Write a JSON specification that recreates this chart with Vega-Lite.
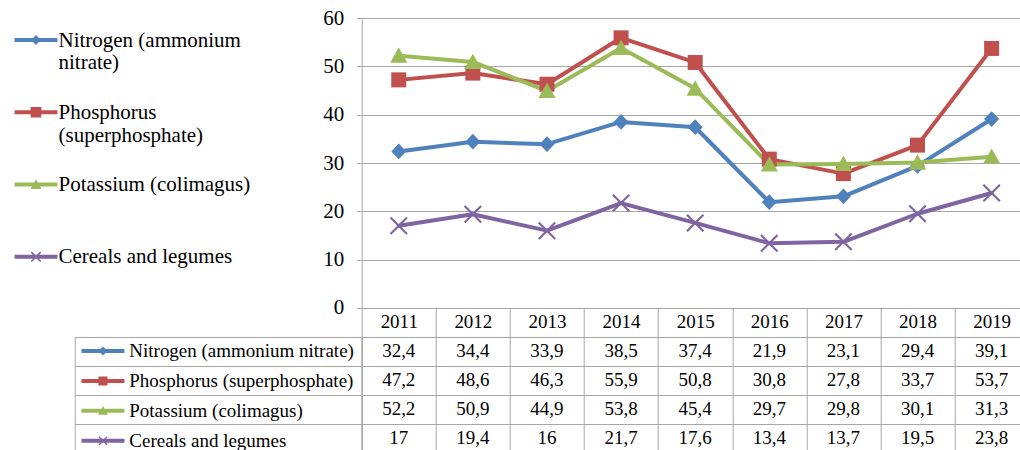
{
  "$schema": "https://vega.github.io/schema/vega-lite/v6.json",
  "padding": {"left": 24.7, "top": 7, "right": 0, "bottom": 0},
  "config": {
    "locale": {"number": {"decimal": ",", "thousands": " ", "grouping": [3], "currency": ["", ""]}},
    "font": "Liberation Serif",
    "view": {"stroke": null},
    "axis": {"labelFont": "Liberation Serif", "labelColor": "#000000", "gridColor": "#A6A6A6", "domainColor": "#A6A6A6", "tickColor": "#A6A6A6", "gridWidth": 1, "domainWidth": 1, "tickWidth": 1},
    "legend": {"labelFont": "Liberation Serif", "labelColor": "#000000"}
  },
  "data": {"values": [
    {"series": "Nitrogen (ammonium nitrate)", "year": 2011, "value": 32.4},
    {"series": "Nitrogen (ammonium nitrate)", "year": 2012, "value": 34.4},
    {"series": "Nitrogen (ammonium nitrate)", "year": 2013, "value": 33.9},
    {"series": "Nitrogen (ammonium nitrate)", "year": 2014, "value": 38.5},
    {"series": "Nitrogen (ammonium nitrate)", "year": 2015, "value": 37.4},
    {"series": "Nitrogen (ammonium nitrate)", "year": 2016, "value": 21.9},
    {"series": "Nitrogen (ammonium nitrate)", "year": 2017, "value": 23.1},
    {"series": "Nitrogen (ammonium nitrate)", "year": 2018, "value": 29.4},
    {"series": "Nitrogen (ammonium nitrate)", "year": 2019, "value": 39.1},
    {"series": "Phosphorus (superphosphate)", "year": 2011, "value": 47.2},
    {"series": "Phosphorus (superphosphate)", "year": 2012, "value": 48.6},
    {"series": "Phosphorus (superphosphate)", "year": 2013, "value": 46.3},
    {"series": "Phosphorus (superphosphate)", "year": 2014, "value": 55.9},
    {"series": "Phosphorus (superphosphate)", "year": 2015, "value": 50.8},
    {"series": "Phosphorus (superphosphate)", "year": 2016, "value": 30.8},
    {"series": "Phosphorus (superphosphate)", "year": 2017, "value": 27.8},
    {"series": "Phosphorus (superphosphate)", "year": 2018, "value": 33.7},
    {"series": "Phosphorus (superphosphate)", "year": 2019, "value": 53.7},
    {"series": "Potassium (colimagus)", "year": 2011, "value": 52.2},
    {"series": "Potassium (colimagus)", "year": 2012, "value": 50.9},
    {"series": "Potassium (colimagus)", "year": 2013, "value": 44.9},
    {"series": "Potassium (colimagus)", "year": 2014, "value": 53.8},
    {"series": "Potassium (colimagus)", "year": 2015, "value": 45.4},
    {"series": "Potassium (colimagus)", "year": 2016, "value": 29.7},
    {"series": "Potassium (colimagus)", "year": 2017, "value": 29.8},
    {"series": "Potassium (colimagus)", "year": 2018, "value": 30.1},
    {"series": "Potassium (colimagus)", "year": 2019, "value": 31.3},
    {"series": "Cereals and legumes", "year": 2011, "value": 17},
    {"series": "Cereals and legumes", "year": 2012, "value": 19.4},
    {"series": "Cereals and legumes", "year": 2013, "value": 16},
    {"series": "Cereals and legumes", "year": 2014, "value": 21.7},
    {"series": "Cereals and legumes", "year": 2015, "value": 17.6},
    {"series": "Cereals and legumes", "year": 2016, "value": 13.4},
    {"series": "Cereals and legumes", "year": 2017, "value": 13.7},
    {"series": "Cereals and legumes", "year": 2018, "value": 19.5},
    {"series": "Cereals and legumes", "year": 2019, "value": 23.8}
  ]},
  "columns": 2,
  "spacing": {"row": 29, "column": 0},
  "bounds": "flush",
  "resolve": {
    "scale": {"x": "independent", "y": "independent", "color": "independent", "fill": "independent", "shape": "independent"},
    "legend": {"fill": "independent", "shape": "independent", "color": "independent"}
  },
  "concat": [
    {
      "width": 287,
      "height": 290,
      "mark": {"type": "point", "filled": true, "opacity": 0, "strokeWidth": 0},
      "encoding": {
        "fill": {
          "field": "series", "type": "nominal",
          "scale": {"domain": ["Nitrogen (ammonium nitrate)", "Phosphorus (superphosphate)", "Potassium (colimagus)", "Cereals and legumes"], "range": ["#4F81BD", "#C0504D", "#9BBB59", "#8064A2"]},
          "legend": {"title": null, "orient": "none", "legendX": -49.2, "legendY": 1, "padding": 0, "labelFontSize": 21, "labelBaseline": "top", "labelLimit": 400, "symbolSize": 121, "symbolStrokeWidth": 0, "symbolOpacity": 1, "labelOffset": 12, "rowPadding": 17.3, "gridAlign": "all",
            "labelExpr": "datum.label == 'Nitrogen (ammonium nitrate)' ? ['Nitrogen (ammonium', 'nitrate)'] : datum.label == 'Phosphorus (superphosphate)' ? ['Phosphorus', '(superphosphate)'] : datum.label"}
        },
        "shape": {
          "field": "series", "type": "nominal",
          "scale": {"domain": ["Nitrogen (ammonium nitrate)", "Phosphorus (superphosphate)", "Potassium (colimagus)", "Cereals and legumes"], "range": [
            "M-3.9,1.54H3.9V2.26H-3.9ZM0,0.99L0.91,1.9L0,2.81L-0.91,1.9Z",
            "M-3.9,1.54H3.9V2.26H-3.9ZM-0.97,0.93H0.97V2.87H-0.97Z",
            "M-3.9,1.54H3.9V2.26H-3.9ZM0,0.95L1,2.7L-1,2.7Z",
            "M-3.9,1.54H3.9V2.26H-3.9ZM-0.75,0.95L0.95,2.65L0.75,2.85L-0.95,1.15ZM-0.75,2.85L-0.95,2.65L0.75,0.95L0.95,1.15Z"
          ]},
          "legend": {"title": null, "orient": "none", "legendX": -49.2, "legendY": 1, "padding": 0, "labelFontSize": 21, "labelBaseline": "top", "labelLimit": 400, "symbolSize": 121, "symbolStrokeWidth": 0, "symbolOpacity": 1, "labelOffset": 12, "rowPadding": 17.3, "gridAlign": "all",
            "labelExpr": "datum.label == 'Nitrogen (ammonium nitrate)' ? ['Nitrogen (ammonium', 'nitrate)'] : datum.label == 'Phosphorus (superphosphate)' ? ['Phosphorus', '(superphosphate)'] : datum.label"}
        }
      }
    },
    {
      "width": 667,
      "height": 290,
      "encoding": {
        "x": {"field": "year", "type": "ordinal", "scale": {"type": "band", "paddingInner": 0, "paddingOuter": 0},
          "axis": {"title": null, "labelAngle": 0, "labelFontSize": 19, "tickBand": "extent", "tickSize": 29, "labelBaseline": "middle", "labelPadding": -15, "grid": false}},
        "y": {"field": "value", "type": "quantitative", "scale": {"domain": [0, 60], "nice": false},
          "axis": {"title": null, "values": [0, 10, 20, 30, 40, 50, 60], "labelFontSize": 21, "tickSize": 5, "labelPadding": 13, "grid": true}}
      },
      "layer": [
        {
          "mark": {"type": "line", "strokeWidth": 4, "strokeJoin": "round", "strokeCap": "round"},
          "encoding": {
            "color": {"field": "series", "type": "nominal", "legend": null,
              "scale": {"domain": ["Nitrogen (ammonium nitrate)", "Phosphorus (superphosphate)", "Potassium (colimagus)", "Cereals and legumes"], "range": ["#4F81BD", "#C0504D", "#9BBB59", "#8064A2"]}}
          }
        },
        {
          "mark": {"type": "point", "filled": true, "opacity": 1, "size": 225, "strokeWidth": 0},
          "encoding": {
            "color": {"field": "series", "type": "nominal", "legend": null,
              "scale": {"domain": ["Nitrogen (ammonium nitrate)", "Phosphorus (superphosphate)", "Potassium (colimagus)", "Cereals and legumes"], "range": ["#4F81BD", "#C0504D", "#9BBB59", "#8064A2"]}},
            "shape": {"field": "series", "type": "nominal", "legend": null,
              "scale": {"domain": ["Nitrogen (ammonium nitrate)", "Phosphorus (superphosphate)", "Potassium (colimagus)", "Cereals and legumes"], "range": [
                "M0,-1.05L1,0L0,1.05L-1,0Z",
                "M-1,-1H1V1H-1Z",
                "M0,-1.1L1.15,0.95L-1.15,0.95Z",
                "M-1,-1.2L1.2,1L1,1.2L-1.2,-1ZM-1,1.2L-1.2,1L1,-1.2L1.2,-1Z"
              ]}}
          }
        }
      ]
    },
    {
      "width": 287,
      "height": 116,
      "view": {"stroke": "#A6A6A6"},
      "mark": {"type": "point", "filled": true, "opacity": 0, "strokeWidth": 0},
      "encoding": {
        "y": {"field": "series", "type": "nominal",
          "scale": {"type": "band", "domain": ["Nitrogen (ammonium nitrate)", "Phosphorus (superphosphate)", "Potassium (colimagus)", "Cereals and legumes"], "paddingInner": 0, "paddingOuter": 0},
          "axis": {"title": null, "labels": false, "ticks": false, "domain": false, "grid": true, "tickBand": "extent"}},
        "fill": {
          "field": "series", "type": "nominal",
          "scale": {"domain": ["Nitrogen (ammonium nitrate)", "Phosphorus (superphosphate)", "Potassium (colimagus)", "Cereals and legumes"], "range": ["#4F81BD", "#C0504D", "#9BBB59", "#8064A2"]},
          "legend": {"title": null, "orient": "none", "legendX": 18.8, "legendY": 4.5, "padding": 0, "labelFontSize": 19, "labelLimit": 400, "symbolSize": 100, "symbolStrokeWidth": 0, "symbolOpacity": 1, "labelOffset": 16.8, "rowPadding": 9.9, "gridAlign": "all"}
        },
        "shape": {
          "field": "series", "type": "nominal",
          "scale": {"domain": ["Nitrogen (ammonium nitrate)", "Phosphorus (superphosphate)", "Potassium (colimagus)", "Cereals and legumes"], "range": [
            "M-4.3,-0.4H4.3V0.4H-4.3ZM0,-0.9L0.9,0L0,0.9L-0.9,0Z",
            "M-4.3,-0.4H4.3V0.4H-4.3ZM-0.9,-0.9H0.9V0.9H-0.9Z",
            "M-4.3,-0.4H4.3V0.4H-4.3ZM0,-0.95L1,0.8L-1,0.8Z",
            "M-4.3,-0.4H4.3V0.4H-4.3ZM-0.7,-0.9L0.9,0.7L0.7,0.9L-0.9,-0.7ZM-0.7,0.9L-0.9,0.7L0.7,-0.9L0.9,-0.7Z"
          ]},
          "legend": {"title": null, "orient": "none", "legendX": 18.8, "legendY": 4.5, "padding": 0, "labelFontSize": 19, "labelLimit": 400, "symbolSize": 100, "symbolStrokeWidth": 0, "symbolOpacity": 1, "labelOffset": 16.8, "rowPadding": 9.9, "gridAlign": "all"}
        }
      }
    },
    {
      "width": 667,
      "height": 116,
      "view": {"stroke": "#A6A6A6"},
      "mark": {"type": "text", "fontSize": 19, "font": "Liberation Serif", "color": "#000000"},
      "encoding": {
        "x": {"field": "year", "type": "ordinal", "scale": {"type": "band", "paddingInner": 0, "paddingOuter": 0},
          "axis": {"title": null, "labels": false, "ticks": false, "domain": false, "grid": true, "tickBand": "extent"}},
        "y": {"field": "series", "type": "nominal",
          "scale": {"type": "band", "domain": ["Nitrogen (ammonium nitrate)", "Phosphorus (superphosphate)", "Potassium (colimagus)", "Cereals and legumes"], "paddingInner": 0, "paddingOuter": 0},
          "axis": {"title": null, "labels": false, "ticks": false, "domain": false, "grid": true, "tickBand": "extent"}},
        "text": {"field": "value", "type": "quantitative", "format": ".1~f"}
      }
    }
  ]
}
